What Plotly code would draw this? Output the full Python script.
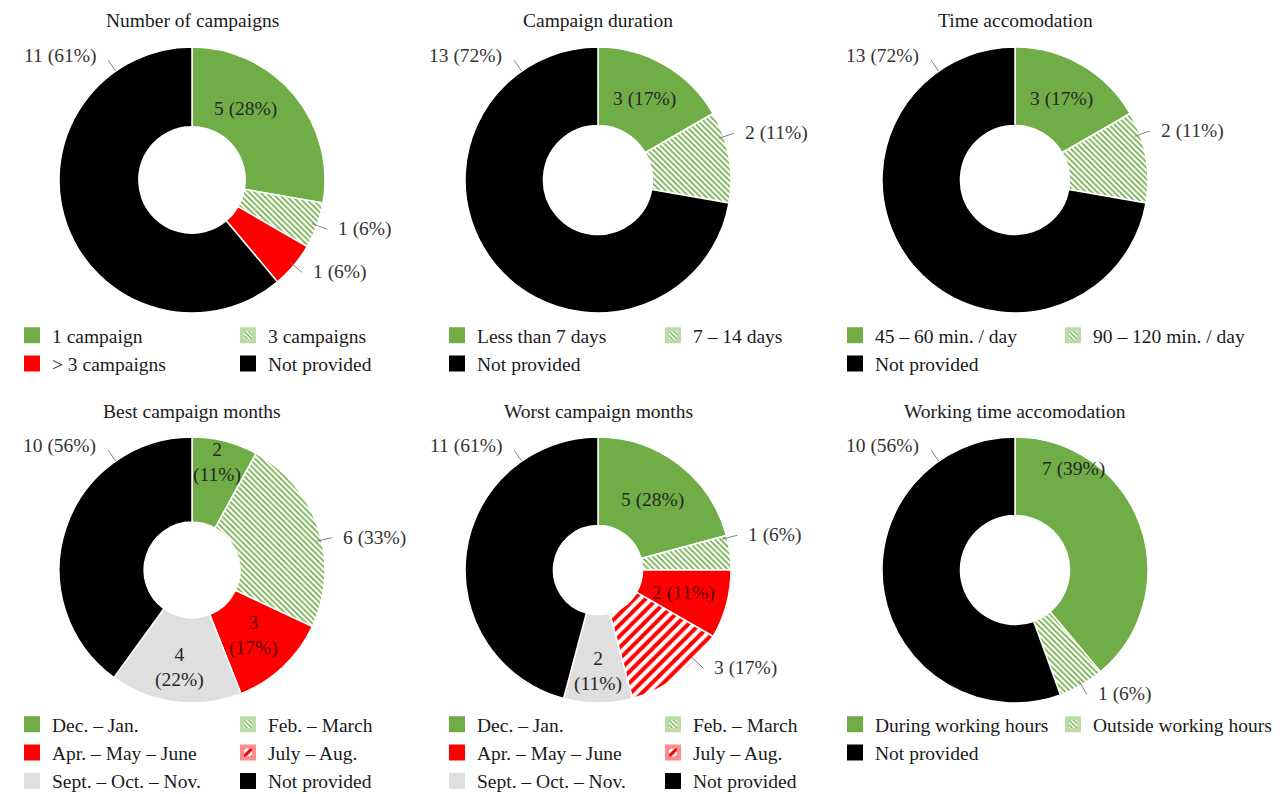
import math
import plotly.graph_objects as go

# ------------------------------------------------------------------ data
titles = ["Number of campaigns", "Campaign duration", "Time accomodation",
          "Best campaign months", "Worst campaign months", "Working time accomodation"]

campaigns_labels = ["1 campaign", "3 campaigns", "> 3 campaigns", "Not provided"]
campaigns_values = [5, 1, 1, 11]
campaigns_pct = [28, 6, 6, 61]

duration_labels = ["Less than 7 days", "7 – 14 days", "Not provided"]
duration_values = [3, 2, 13]
duration_pct = [17, 11, 72]

time_labels = ["45 – 60 min. / day", "90 – 120 min. / day", "Not provided"]
time_values = [3, 2, 13]
time_pct = [17, 11, 72]

months_labels = ["Dec. – Jan.", "Feb. – March", "Apr. – May – June",
                 "July – Aug.", "Sept. – Oct. – Nov.", "Not provided"]
best_values = [2, 6, 3, 0, 4, 10]
best_pct = [11, 33, 17, 0, 22, 56]
worst_values = [5, 1, 2, 3, 2, 11]
worst_pct = [28, 6, 11, 17, 11, 61]

working_labels = ["During working hours", "Outside working hours", "Not provided"]
working_values = [7, 1, 10]
working_pct = [39, 6, 56]

# ------------------------------------------------------------------ styles
W = 1286
H = 812          # slightly taller than the window so the bottom legend row is not pushed up
FONT = "Liberation Serif"
FS = 19.5
GREEN = "#70AD47"
RED = "#FF0000"
GREY = "#DFDFDF"
BLACK = "#000000"

fills = {
    "green": dict(color=GREEN, shape="", fg=GREEN, size=4, sol=0.5, frame=GREEN),
    "green_hatch": dict(color="white", shape="\\", fg=GREEN, size=4, sol=0.42, frame="#BCDBA8"),
    "red": dict(color=RED, shape="", fg=RED, size=9, sol=0.5, frame=RED),
    "red_hatch": dict(color="white", shape="/", fg=RED, size=8, sol=0.5, frame="#FF8C8C"),
    "grey": dict(color=GREY, shape="", fg=GREY, size=4, sol=0.5, frame=GREY),
    "black": dict(color=BLACK, shape="", fg=BLACK, size=4, sol=0.5, frame=BLACK),
}

panels = [
    dict(labels=campaigns_labels, values=campaigns_values, pct=campaigns_pct,
         fills=["green", "green_hatch", "red", "black"], hole=0.40,
         center=(192, 180), text_x=(52, 268), legend_top=316,
         lab=[("in", 37, 0.67), ("out", None), ("out", None), ("big",)]),
    dict(labels=duration_labels, values=duration_values, pct=duration_pct,
         fills=["green", "green_hatch", "black"], hole=0.41,
         center=(598, 180), text_x=(477, 693), legend_top=316,
         lab=[("in", None, None), ("out", 71), ("big",)]),
    dict(labels=time_labels, values=time_values, pct=time_pct,
         fills=["green", "green_hatch", "black"], hole=0.41,
         center=(1015, 180), text_x=(875, 1093), legend_top=316,
         lab=[("in", None, None), ("out", 70), ("big",)]),
    dict(labels=months_labels, values=best_values, pct=best_pct,
         fills=["green", "green_hatch", "red", "red_hatch", "grey", "black"], hole=0.36,
         center=(192, 570), text_x=(52, 268), legend_top=705,
         lab=[("in2", 13, 0.83), ("out", 77), ("in2", None, None), None,
              ("in2", None, 0.74), ("big",)]),
    dict(labels=months_labels, values=worst_values, pct=worst_pct,
         fills=["green", "green_hatch", "red", "red_hatch", "grey", "black"], hole=0.335,
         center=(598, 570), text_x=(477, 693), legend_top=705,
         lab=[("in", None, None), ("out", 76), ("in", None, None), ("out", 133),
              ("in2", None, 0.76), ("big",)]),
    dict(labels=working_labels, values=working_values, pct=working_pct,
         fills=["green", "green_hatch", "black"], hole=0.41,
         center=(1015, 570), text_x=(875, 1093), legend_top=705,
         lab=[("in", 30, 0.88), ("out", None), ("big",)]),
]
R = 133
TITLE_Y = {180: 21, 570: 411}


def px(x):
    return x / W


def py(y):
    return 1 - y / H


def polar(cx, cy, ang, r):
    a = math.radians(ang)
    return cx + r * math.sin(a), cy - r * math.cos(a)


fig = go.Figure()
annotations = []
shapes = []
legend_layouts = {}
leg_idx = 0

for p_i, p in enumerate(panels):
    cx, cy = p["center"]
    vals = p["values"]
    tot = sum(vals)
    f = [fills[k] for k in p["fills"]]
    fig.add_trace(go.Pie(
        labels=p["labels"], values=vals, sort=False, direction="clockwise", rotation=0,
        hole=p["hole"], textinfo="none", hoverinfo="label+value", showlegend=False,
        marker=dict(colors=[s["color"] for s in f],
                    line=dict(color="white", width=1.5),
                    pattern=dict(shape=[s["shape"] for s in f],
                                 fgcolor=[s["fg"] for s in f],
                                 bgcolor=[s["color"] for s in f],
                                 size=[s["size"] for s in f],
                                 solidity=[s["sol"] for s in f],
                                 fillmode="replace")),
        domain=dict(x=[px(cx - R), px(cx + R)], y=[py(cy + R), py(cy - R)]),
    ))
    # title
    annotations.append(dict(text=titles[p_i], x=px(cx), y=py(TITLE_Y[cy]), xref="paper",
                            yref="paper", showarrow=False, xanchor="center", yanchor="middle",
                            font=dict(family=FONT, size=FS, color="#1a1a1a")))
    # data labels
    cum = 0
    for i, v in enumerate(vals):
        mid = (cum + v / 2) / tot * 360
        cum += v
        spec = p["lab"][i]
        if spec is None or v == 0:
            continue
        txt1 = f"{v} ({p['pct'][i]}%)"
        kind = spec[0]
        col = "#5C0000" if p["fills"][i] == "red" else "#262626"
        if kind in ("in", "in2"):
            ang = spec[1] if spec[1] is not None else mid
            rf = spec[2] if spec[2] is not None else (p["hole"] + 1) / 2
            tx, ty = polar(cx, cy, ang, rf * R)
            t = txt1 if kind == "in" else f"{v}<br>({p['pct'][i]}%)"
            annotations.append(dict(text=t, x=px(tx), y=py(ty), xref="paper", yref="paper",
                                    showarrow=False, xanchor="center", yanchor="middle",
                                    font=dict(family=FONT, size=FS, color=col)))
        elif kind == "out":
            ang = spec[1] if spec[1] is not None else mid
            hx, hy = polar(cx, cy, ang, 0.96 * R)
            tx, ty = polar(cx, cy, ang, 1.08 * R)
            shapes.append(dict(type="line", xref="paper", yref="paper", x0=px(hx), y0=py(hy),
                               x1=px(tx), y1=py(ty), line=dict(color="#7F7F7F", width=1)))
            right = math.sin(math.radians(ang)) >= 0
            annotations.append(dict(text=txt1, x=px(tx + (9 if right else -9)), y=py(ty),
                                    xref="paper", yref="paper", showarrow=False,
                                    xanchor="left" if right else "right", yanchor="middle",
                                    font=dict(family=FONT, size=FS, color="#333333")))
        else:  # big label in upper-left
            ang = 325
            hx, hy = polar(cx, cy, ang, 1.0 * R)
            tx, ty = polar(cx, cy, ang, 1.1 * R)
            shapes.append(dict(type="line", xref="paper", yref="paper", x0=px(hx), y0=py(hy),
                               x1=px(tx), y1=py(ty), line=dict(color="#7F7F7F", width=1)))
            annotations.append(dict(text=txt1, x=px(tx - 10), y=py(ty - 4),
                                    xref="paper", yref="paper", showarrow=False,
                                    xanchor="right", yanchor="middle",
                                    font=dict(family=FONT, size=FS, color="#333333")))
    # legends: two columns, row-major order
    for col in range(2):
        leg_idx += 1
        lname = "legend" if leg_idx == 1 else f"legend{leg_idx}"
        legend_layouts[lname] = dict(
            x=px(p["text_x"][col] - 40), y=py(p["legend_top"]), xanchor="left", yanchor="top",
            orientation="v", bgcolor="rgba(0,0,0,0)", tracegroupgap=0,
            font=dict(family=FONT, size=FS, color="#1a1a1a"), itemclick=False,
            itemdoubleclick=False)
        for i in range(col, len(p["labels"]), 2):
            s = fills[p["fills"][i]]
            fig.add_trace(go.Bar(
                x=[None], y=[None], name=p["labels"][i], legend=lname, showlegend=True,
                hoverinfo="skip",
                marker=dict(color=s["color"], line=dict(width=4, color=s["frame"]),
                            pattern=dict(shape=s["shape"], fgcolor=s["fg"], bgcolor=s["color"],
                                         size=s["size"], solidity=s["sol"], fillmode="replace")),
            ))

fig.update_layout(
    width=W, height=H, margin=dict(l=0, r=0, t=0, b=0),
    paper_bgcolor="white", plot_bgcolor="white",
    xaxis=dict(visible=False), yaxis=dict(visible=False),
    annotations=annotations, shapes=shapes,
    **legend_layouts,
)

fig.write_html("out.html", config={"displayModeBar": False},
               post_script="document.body.style.margin='0px';"
                           "document.body.style.overflow='hidden';")
